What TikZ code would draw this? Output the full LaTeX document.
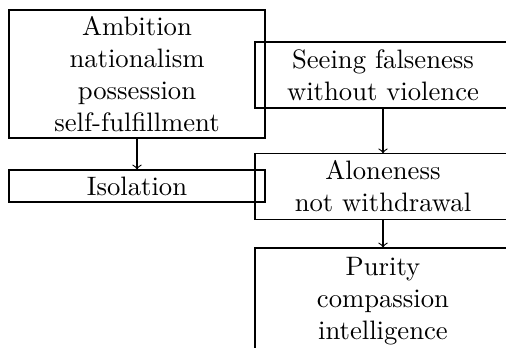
\documentclass[tikz,border=0pt]{standalone}
\begin{document}
\begin{tikzpicture}[x=0.375pt,y=-0.375pt,
  box/.style={draw, inner sep=0pt, text width=90pt, align=center, minimum width=96pt},
  link/.style={->}]
\useasboundingbox (0,0) rectangle (506,347);
\clip (0,0) rectangle (506,347);
% left column
\node[box, minimum height=48pt] (drives) at (137,74) {Ambition\\nationalism\\possession\\self-fulfillment};
\node[box, minimum height=12pt] (isolation) at (137,186) {Isolation};
% right column
\node[box, minimum height=24.75pt] (seeing) at (383,75) {Seeing falseness\\without violence};
\node[box, minimum height=24.5pt] (alone) at (383,186.5) {Aloneness\\not withdrawal};
\node[box, minimum height=39.75pt] (purity) at (383,301) {Purity\\compassion\\intelligence};
% connectors
\draw[link] (drives) -- (isolation);
\draw[link] (seeing) -- (alone);
\draw[link] (alone) -- (purity);
\end{tikzpicture}
\end{document}
